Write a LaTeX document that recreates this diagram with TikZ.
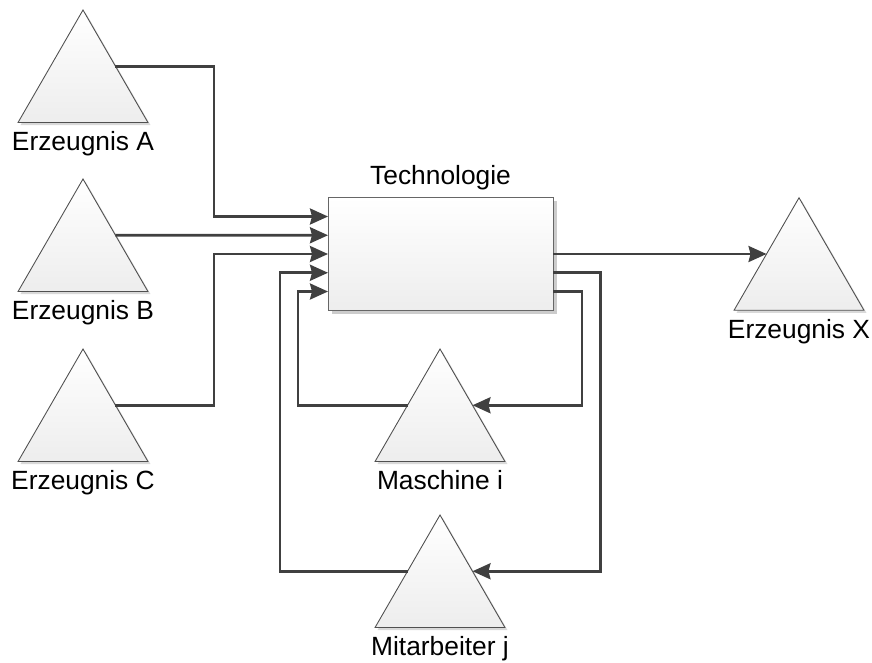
\documentclass[tikz,border=0pt]{standalone}
\usepackage{fontspec}
\setmainfont{Liberation Sans}
\usetikzlibrary{shapes.geometric,shadows,arrows.meta,calc}

\definecolor{flowgray}{HTML}{404040}
\definecolor{edgegray}{HTML}{505050}

\begin{document}
\begin{tikzpicture}[
    font=\fontsize{15}{18}\selectfont,
    stock/.style={regular polygon, regular polygon sides=3, minimum size=3cm,
        inner sep=0pt, outer sep=0pt, draw=edgegray, line width=0.5pt,
        top color=white, bottom color=black!7,
        drop shadow={shadow xshift=0.05cm, shadow yshift=-0.05cm,
            fill=black, opacity=0.15}},
    process/.style={rectangle, minimum width=4.5cm, minimum height=2.26cm,
        inner sep=0pt, outer sep=0pt, draw=black!60, line width=0.5pt,
        top color=white, bottom color=black!7,
        drop shadow={shadow xshift=0.07cm, shadow yshift=-0.07cm,
            fill=black, opacity=0.2}},
    stocklabel/.style={label distance=0.05cm},
    flow/.style={draw=flowgray, line width=1.5pt,
        -{Stealth[length=0.36cm, width=0.32cm, inset=0.04cm]}}
]
    \useasboundingbox (0,0) rectangle (17.44,-13.24);

    % x of the vertical runs
    \coordinate (xin) at (4.28,0);
    \coordinate (xmi) at (5.60,0);
    \coordinate (xmo) at (5.96,0);
    \coordinate (xwo) at (12.01,0);
    \coordinate (xwi) at (11.64,0);

    % products
    \node[stock, label={[stocklabel]below:Erzeugnis A}] (A) at (1.66,-1.70) {};
    \node[stock, label={[stocklabel]below:Erzeugnis B}] (B) at (1.66,-5.08) {};
    \node[stock, label={[stocklabel]below:Erzeugnis C}] (C) at (1.66,-8.48) {};
    \node[stock, label={[stocklabel]below:Erzeugnis X}] (X) at (15.98,-5.455) {};

    % resources
    \node[stock, label={[stocklabel]below:Maschine i}] (M) at (8.80,-8.48) {};
    \node[stock, label={[stocklabel]below:Mitarbeiter j}] (W) at (8.80,-11.80) {};

    % process
    \node[process, label={[label distance=0.02cm]above:Technologie}] (T) at (8.81,-5.08) {};

    % ports of the process
    \coordinate (in1) at ($(T.west)+(0,0.75)$);
    \coordinate (in2) at ($(T.west)+(0,0.375)$);
    \coordinate (in3) at (T.west);
    \coordinate (in4) at ($(T.west)+(0,-0.375)$);
    \coordinate (in5) at ($(T.west)+(0,-0.75)$);
    \coordinate (out1) at (T.east);
    \coordinate (out2) at ($(T.east)+(0,-0.375)$);
    \coordinate (out3) at ($(T.east)+(0,-0.75)$);

    % inputs
    \draw[flow] (A.side 3) -| (xin |- in1) -- (in1);
    \draw[flow] (B.side 3) -- (in2);
    \draw[flow] (C.side 3) -| (xin |- in3) -- (in3);

    % output
    \draw[flow] (out1) -- (out1 -| X.side 1);

    % machine loop
    \draw[flow] (out3) -| (xwi |- M.side 3) -- (M.side 3);
    \draw[flow] (M.side 1) -| (xmo |- in5) -- (in5);

    % worker loop
    \draw[flow] (out2) -| (xwo |- W.side 3) -- (W.side 3);
    \draw[flow] (W.side 1) -| (xmi |- in4) -- (in4);
\end{tikzpicture}
\end{document}
